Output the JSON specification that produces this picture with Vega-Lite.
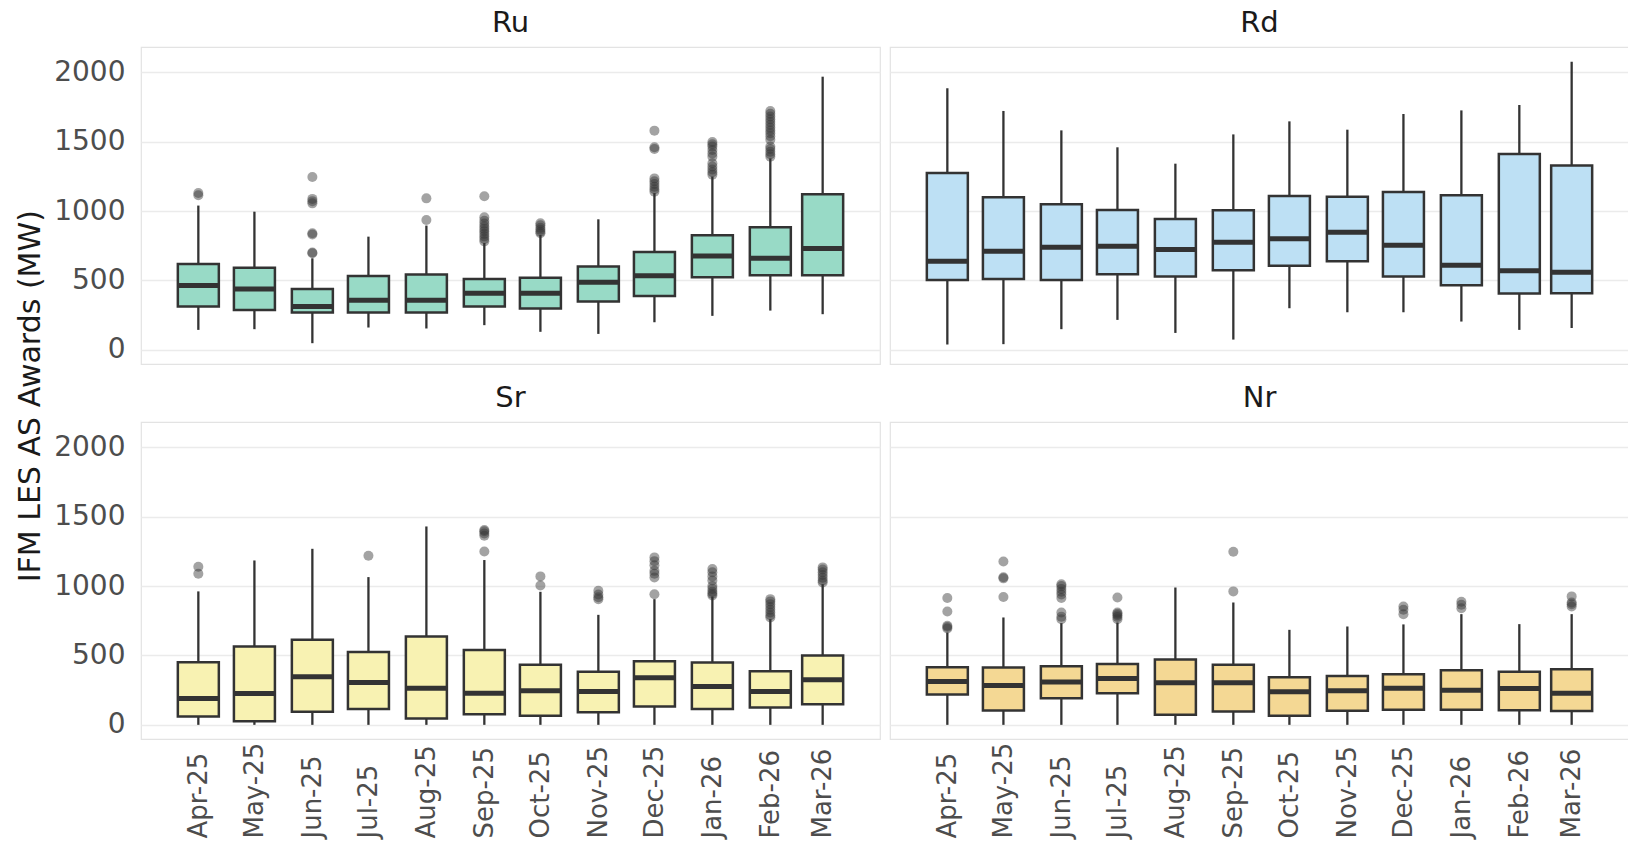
{
 "$schema": "https://vega.github.io/schema/vega-lite/v6.json",
 "padding": {"left": 15, "top": 8, "right": 2, "bottom": 2},
 "background": "white",
 "title": {"text": "IFM LES AS Awards (MW)", "orient": "left", "anchor": "middle", "fontSize": 30, "font": "DejaVu Sans", "fontWeight": "normal", "color": "#1a1a1a", "offset": 8, "dx": 27},
 "datasets": {
  "d": [
   {"panel":"Ru","month":"2025-04-01","lower":144,"q1":312,"median":463,"q3":619,"upper":1040},
   {"panel":"Ru","month":"2025-05-01","lower":149,"q1":288,"median":439,"q3":591,"upper":996},
   {"panel":"Ru","month":"2025-06-01","lower":48,"q1":269,"median":312,"q3":439,"upper":660},
   {"panel":"Ru","month":"2025-07-01","lower":161,"q1":269,"median":358,"q3":533,"upper":816},
   {"panel":"Ru","month":"2025-08-01","lower":154,"q1":269,"median":358,"q3":543,"upper":896},
   {"panel":"Ru","month":"2025-09-01","lower":178,"q1":312,"median":408,"q3":511,"upper":770},
   {"panel":"Ru","month":"2025-10-01","lower":130,"q1":298,"median":408,"q3":519,"upper":828},
   {"panel":"Ru","month":"2025-11-01","lower":115,"q1":348,"median":487,"q3":600,"upper":941},
   {"panel":"Ru","month":"2025-12-01","lower":199,"q1":389,"median":535,"q3":706,"upper":1130},
   {"panel":"Ru","month":"2026-01-01","lower":245,"q1":523,"median":677,"q3":826,"upper":1249},
   {"panel":"Ru","month":"2026-02-01","lower":283,"q1":538,"median":660,"q3":884,"upper":1380},
   {"panel":"Ru","month":"2026-03-01","lower":257,"q1":538,"median":730,"q3":1121,"upper":1969},
   {"panel":"Rd","month":"2025-04-01","lower":38,"q1":504,"median":639,"q3":1275,"upper":1885},
   {"panel":"Rd","month":"2025-05-01","lower":41,"q1":511,"median":711,"q3":1100,"upper":1722},
   {"panel":"Rd","month":"2025-06-01","lower":149,"q1":504,"median":740,"q3":1049,"upper":1582},
   {"panel":"Rd","month":"2025-07-01","lower":216,"q1":545,"median":747,"q3":1008,"upper":1460},
   {"panel":"Rd","month":"2025-08-01","lower":122,"q1":528,"median":723,"q3":944,"upper":1342},
   {"panel":"Rd","month":"2025-09-01","lower":74,"q1":574,"median":776,"q3":1006,"upper":1553},
   {"panel":"Rd","month":"2025-10-01","lower":300,"q1":607,"median":800,"q3":1109,"upper":1647},
   {"panel":"Rd","month":"2025-11-01","lower":271,"q1":639,"median":848,"q3":1104,"upper":1587},
   {"panel":"Rd","month":"2025-12-01","lower":271,"q1":528,"median":754,"q3":1138,"upper":1700},
   {"panel":"Rd","month":"2026-01-01","lower":204,"q1":466,"median":610,"q3":1114,"upper":1726},
   {"panel":"Rd","month":"2026-02-01","lower":144,"q1":406,"median":571,"q3":1412,"upper":1765},
   {"panel":"Rd","month":"2026-03-01","lower":158,"q1":408,"median":559,"q3":1328,"upper":2077},
   {"panel":"Sr","month":"2025-04-01","lower":0,"q1":60,"median":190,"q3":452,"upper":962},
   {"panel":"Sr","month":"2025-05-01","lower":0,"q1":26,"median":226,"q3":565,"upper":1185},
   {"panel":"Sr","month":"2025-06-01","lower":0,"q1":94,"median":346,"q3":613,"upper":1269},
   {"panel":"Sr","month":"2025-07-01","lower":0,"q1":115,"median":305,"q3":526,"upper":1065},
   {"panel":"Sr","month":"2025-08-01","lower":0,"q1":46,"median":264,"q3":637,"upper":1430},
   {"panel":"Sr","month":"2025-09-01","lower":0,"q1":77,"median":228,"q3":539,"upper":1188},
   {"panel":"Sr","month":"2025-10-01","lower":0,"q1":65,"median":245,"q3":433,"upper":959},
   {"panel":"Sr","month":"2025-11-01","lower":0,"q1":91,"median":240,"q3":382,"upper":793},
   {"panel":"Sr","month":"2025-12-01","lower":0,"q1":132,"median":339,"q3":459,"upper":906},
   {"panel":"Sr","month":"2026-01-01","lower":0,"q1":115,"median":276,"q3":450,"upper":925},
   {"panel":"Sr","month":"2026-02-01","lower":0,"q1":125,"median":240,"q3":387,"upper":762},
   {"panel":"Sr","month":"2026-03-01","lower":0,"q1":149,"median":325,"q3":500,"upper":1014},
   {"panel":"Nr","month":"2025-04-01","lower":0,"q1":219,"median":313,"q3":416,"upper":666},
   {"panel":"Nr","month":"2025-05-01","lower":0,"q1":103,"median":284,"q3":413,"upper":774},
   {"panel":"Nr","month":"2025-06-01","lower":0,"q1":192,"median":308,"q3":423,"upper":733},
   {"panel":"Nr","month":"2025-07-01","lower":0,"q1":228,"median":334,"q3":438,"upper":738},
   {"panel":"Nr","month":"2025-08-01","lower":0,"q1":72,"median":303,"q3":471,"upper":990},
   {"panel":"Nr","month":"2025-09-01","lower":0,"q1":96,"median":303,"q3":433,"upper":882},
   {"panel":"Nr","month":"2025-10-01","lower":0,"q1":65,"median":238,"q3":344,"upper":685},
   {"panel":"Nr","month":"2025-11-01","lower":0,"q1":101,"median":245,"q3":353,"upper":709},
   {"panel":"Nr","month":"2025-12-01","lower":0,"q1":108,"median":264,"q3":365,"upper":724},
   {"panel":"Nr","month":"2026-01-01","lower":0,"q1":108,"median":250,"q3":394,"upper":798},
   {"panel":"Nr","month":"2026-02-01","lower":0,"q1":106,"median":262,"q3":382,"upper":726},
   {"panel":"Nr","month":"2026-03-01","lower":0,"q1":99,"median":228,"q3":401,"upper":798},
   {"panel":"Ru","month":"2025-04-01","outlier":1115},
   {"panel":"Ru","month":"2025-04-01","outlier":1130},
   {"panel":"Ru","month":"2025-06-01","outlier":696},
   {"panel":"Ru","month":"2025-06-01","outlier":702},
   {"panel":"Ru","month":"2025-06-01","outlier":831},
   {"panel":"Ru","month":"2025-06-01","outlier":840},
   {"panel":"Ru","month":"2025-06-01","outlier":1056},
   {"panel":"Ru","month":"2025-06-01","outlier":1072},
   {"panel":"Ru","month":"2025-06-01","outlier":1088},
   {"panel":"Ru","month":"2025-06-01","outlier":1246},
   {"panel":"Ru","month":"2025-08-01","outlier":936},
   {"panel":"Ru","month":"2025-08-01","outlier":1092},
   {"panel":"Ru","month":"2025-09-01","outlier":782},
   {"panel":"Ru","month":"2025-09-01","outlier":800},
   {"panel":"Ru","month":"2025-09-01","outlier":818},
   {"panel":"Ru","month":"2025-09-01","outlier":836},
   {"panel":"Ru","month":"2025-09-01","outlier":855},
   {"panel":"Ru","month":"2025-09-01","outlier":872},
   {"panel":"Ru","month":"2025-09-01","outlier":890},
   {"panel":"Ru","month":"2025-09-01","outlier":910},
   {"panel":"Ru","month":"2025-09-01","outlier":930},
   {"panel":"Ru","month":"2025-09-01","outlier":955},
   {"panel":"Ru","month":"2025-09-01","outlier":1107},
   {"panel":"Ru","month":"2025-10-01","outlier":840},
   {"panel":"Ru","month":"2025-10-01","outlier":852},
   {"panel":"Ru","month":"2025-10-01","outlier":866},
   {"panel":"Ru","month":"2025-10-01","outlier":880},
   {"panel":"Ru","month":"2025-10-01","outlier":898},
   {"panel":"Ru","month":"2025-10-01","outlier":912},
   {"panel":"Ru","month":"2025-12-01","outlier":1140},
   {"panel":"Ru","month":"2025-12-01","outlier":1158},
   {"panel":"Ru","month":"2025-12-01","outlier":1176},
   {"panel":"Ru","month":"2025-12-01","outlier":1195},
   {"panel":"Ru","month":"2025-12-01","outlier":1215},
   {"panel":"Ru","month":"2025-12-01","outlier":1236},
   {"panel":"Ru","month":"2025-12-01","outlier":1448},
   {"panel":"Ru","month":"2025-12-01","outlier":1460},
   {"panel":"Ru","month":"2025-12-01","outlier":1580},
   {"panel":"Ru","month":"2026-01-01","outlier":1262},
   {"panel":"Ru","month":"2026-01-01","outlier":1280},
   {"panel":"Ru","month":"2026-01-01","outlier":1300},
   {"panel":"Ru","month":"2026-01-01","outlier":1322},
   {"panel":"Ru","month":"2026-01-01","outlier":1345},
   {"panel":"Ru","month":"2026-01-01","outlier":1392},
   {"panel":"Ru","month":"2026-01-01","outlier":1415},
   {"panel":"Ru","month":"2026-01-01","outlier":1440},
   {"panel":"Ru","month":"2026-01-01","outlier":1465},
   {"panel":"Ru","month":"2026-01-01","outlier":1482},
   {"panel":"Ru","month":"2026-01-01","outlier":1498},
   {"panel":"Ru","month":"2026-02-01","outlier":1392},
   {"panel":"Ru","month":"2026-02-01","outlier":1410},
   {"panel":"Ru","month":"2026-02-01","outlier":1428},
   {"panel":"Ru","month":"2026-02-01","outlier":1448},
   {"panel":"Ru","month":"2026-02-01","outlier":1465},
   {"panel":"Ru","month":"2026-02-01","outlier":1515},
   {"panel":"Ru","month":"2026-02-01","outlier":1540},
   {"panel":"Ru","month":"2026-02-01","outlier":1562},
   {"panel":"Ru","month":"2026-02-01","outlier":1582},
   {"panel":"Ru","month":"2026-02-01","outlier":1602},
   {"panel":"Ru","month":"2026-02-01","outlier":1622},
   {"panel":"Ru","month":"2026-02-01","outlier":1642},
   {"panel":"Ru","month":"2026-02-01","outlier":1662},
   {"panel":"Ru","month":"2026-02-01","outlier":1682},
   {"panel":"Ru","month":"2026-02-01","outlier":1702},
   {"panel":"Ru","month":"2026-02-01","outlier":1722},
   {"panel":"Sr","month":"2025-04-01","outlier":1089},
   {"panel":"Sr","month":"2025-04-01","outlier":1139},
   {"panel":"Sr","month":"2025-07-01","outlier":1219},
   {"panel":"Sr","month":"2025-09-01","outlier":1250},
   {"panel":"Sr","month":"2025-09-01","outlier":1363},
   {"panel":"Sr","month":"2025-09-01","outlier":1380},
   {"panel":"Sr","month":"2025-09-01","outlier":1395},
   {"panel":"Sr","month":"2025-09-01","outlier":1404},
   {"panel":"Sr","month":"2025-10-01","outlier":1005},
   {"panel":"Sr","month":"2025-10-01","outlier":1070},
   {"panel":"Sr","month":"2025-11-01","outlier":906},
   {"panel":"Sr","month":"2025-11-01","outlier":920},
   {"panel":"Sr","month":"2025-11-01","outlier":940},
   {"panel":"Sr","month":"2025-11-01","outlier":966},
   {"panel":"Sr","month":"2025-12-01","outlier":942},
   {"panel":"Sr","month":"2025-12-01","outlier":1063},
   {"panel":"Sr","month":"2025-12-01","outlier":1090},
   {"panel":"Sr","month":"2025-12-01","outlier":1110},
   {"panel":"Sr","month":"2025-12-01","outlier":1150},
   {"panel":"Sr","month":"2025-12-01","outlier":1180},
   {"panel":"Sr","month":"2025-12-01","outlier":1207},
   {"panel":"Sr","month":"2026-01-01","outlier":932},
   {"panel":"Sr","month":"2026-01-01","outlier":945},
   {"panel":"Sr","month":"2026-01-01","outlier":960},
   {"panel":"Sr","month":"2026-01-01","outlier":980},
   {"panel":"Sr","month":"2026-01-01","outlier":1000},
   {"panel":"Sr","month":"2026-01-01","outlier":1040},
   {"panel":"Sr","month":"2026-01-01","outlier":1070},
   {"panel":"Sr","month":"2026-01-01","outlier":1100},
   {"panel":"Sr","month":"2026-01-01","outlier":1123},
   {"panel":"Sr","month":"2026-02-01","outlier":774},
   {"panel":"Sr","month":"2026-02-01","outlier":790},
   {"panel":"Sr","month":"2026-02-01","outlier":810},
   {"panel":"Sr","month":"2026-02-01","outlier":830},
   {"panel":"Sr","month":"2026-02-01","outlier":850},
   {"panel":"Sr","month":"2026-02-01","outlier":870},
   {"panel":"Sr","month":"2026-02-01","outlier":890},
   {"panel":"Sr","month":"2026-02-01","outlier":906},
   {"panel":"Sr","month":"2026-03-01","outlier":1026},
   {"panel":"Sr","month":"2026-03-01","outlier":1040},
   {"panel":"Sr","month":"2026-03-01","outlier":1060},
   {"panel":"Sr","month":"2026-03-01","outlier":1080},
   {"panel":"Sr","month":"2026-03-01","outlier":1100},
   {"panel":"Sr","month":"2026-03-01","outlier":1120},
   {"panel":"Sr","month":"2026-03-01","outlier":1135},
   {"panel":"Nr","month":"2025-04-01","outlier":695},
   {"panel":"Nr","month":"2025-04-01","outlier":705},
   {"panel":"Nr","month":"2025-04-01","outlier":714},
   {"panel":"Nr","month":"2025-04-01","outlier":817},
   {"panel":"Nr","month":"2025-04-01","outlier":914},
   {"panel":"Nr","month":"2025-05-01","outlier":921},
   {"panel":"Nr","month":"2025-05-01","outlier":1056},
   {"panel":"Nr","month":"2025-05-01","outlier":1064},
   {"panel":"Nr","month":"2025-05-01","outlier":1178},
   {"panel":"Nr","month":"2025-06-01","outlier":762},
   {"panel":"Nr","month":"2025-06-01","outlier":780},
   {"panel":"Nr","month":"2025-06-01","outlier":810},
   {"panel":"Nr","month":"2025-06-01","outlier":914},
   {"panel":"Nr","month":"2025-06-01","outlier":940},
   {"panel":"Nr","month":"2025-06-01","outlier":959},
   {"panel":"Nr","month":"2025-06-01","outlier":980},
   {"panel":"Nr","month":"2025-06-01","outlier":1000},
   {"panel":"Nr","month":"2025-06-01","outlier":1014},
   {"panel":"Nr","month":"2025-07-01","outlier":762},
   {"panel":"Nr","month":"2025-07-01","outlier":778},
   {"panel":"Nr","month":"2025-07-01","outlier":790},
   {"panel":"Nr","month":"2025-07-01","outlier":800},
   {"panel":"Nr","month":"2025-07-01","outlier":810},
   {"panel":"Nr","month":"2025-07-01","outlier":918},
   {"panel":"Nr","month":"2025-09-01","outlier":962},
   {"panel":"Nr","month":"2025-09-01","outlier":1248},
   {"panel":"Nr","month":"2025-12-01","outlier":798},
   {"panel":"Nr","month":"2025-12-01","outlier":830},
   {"panel":"Nr","month":"2025-12-01","outlier":853},
   {"panel":"Nr","month":"2026-01-01","outlier":841},
   {"panel":"Nr","month":"2026-01-01","outlier":866},
   {"panel":"Nr","month":"2026-01-01","outlier":887},
   {"panel":"Nr","month":"2026-03-01","outlier":853},
   {"panel":"Nr","month":"2026-03-01","outlier":870},
   {"panel":"Nr","month":"2026-03-01","outlier":882},
   {"panel":"Nr","month":"2026-03-01","outlier":926}
  ]
 },
 "data": {"name": "d"},
 "columns": 2,
 "spacing": {"row": 18, "column": 8},
 "facet": {"field": "panel", "type": "nominal", "sort": ["Ru", "Rd", "Sr", "Nr"], "title": null,
   "header": {"labelFontSize": 29, "labelFont": "DejaVu Sans", "labelColor": "#1a1a1a", "labelPadding": 9}},
 "spec": {
  "width": 739,
  "height": 317,
  "encoding": {
   "x": {"field": "month", "type": "temporal", "title": null,
     "scale": {"type": "utc", "domain": [{"year": 2025, "month": 3, "date": 4, "utc": true}, {"year": 2026, "month": 3, "date": 29, "utc": true}], "nice": false},
     "axis": {"format": "%b-%y", "values": [
       {"year": 2025, "month": 4, "date": 1, "utc": true},
       {"year": 2025, "month": 5, "date": 1, "utc": true},
       {"year": 2025, "month": 6, "date": 1, "utc": true},
       {"year": 2025, "month": 7, "date": 1, "utc": true},
       {"year": 2025, "month": 8, "date": 1, "utc": true},
       {"year": 2025, "month": 9, "date": 1, "utc": true},
       {"year": 2025, "month": 10, "date": 1, "utc": true},
       {"year": 2025, "month": 11, "date": 1, "utc": true},
       {"year": 2025, "month": 12, "date": 1, "utc": true},
       {"year": 2026, "month": 1, "date": 1, "utc": true},
       {"year": 2026, "month": 2, "date": 1, "utc": true},
       {"year": 2026, "month": 3, "date": 1, "utc": true}]}}
  },
  "layer": [
   {"transform": [{"filter": "isValid(datum.q1)"}],
    "mark": {"type": "rule", "color": "#333333", "strokeWidth": 2.3},
    "encoding": {
     "y": {"field": "lower", "type": "quantitative", "title": null,
       "scale": {"domain": [-102, 2183], "nice": false, "zero": false},
       "axis": {"values": [0, 500, 1000, 1500, 2000], "format": "d"}},
     "y2": {"field": "upper"}}},
   {"transform": [{"filter": "isValid(datum.q1)"}],
    "mark": {"type": "bar", "size": 41, "stroke": "#333333", "strokeWidth": 2.5, "opacity": 1},
    "encoding": {
     "y": {"field": "q1", "type": "quantitative", "title": null},
     "y2": {"field": "q3"},
     "fill": {"field": "panel", "type": "nominal", "legend": null,
       "scale": {"domain": ["Ru", "Rd", "Sr", "Nr"], "range": ["#98dac6", "#bde0f4", "#f8f2b2", "#f4d894"]}}}},
   {"transform": [{"filter": "isValid(datum.q1)"}],
    "mark": {"type": "tick", "orient": "horizontal", "size": 41, "thickness": 5, "color": "#333333", "opacity": 1},
    "encoding": {
     "y": {"field": "median", "type": "quantitative", "title": null}}},
   {"transform": [{"filter": "isValid(datum.outlier)"}],
    "mark": {"type": "point", "filled": true, "size": 100, "color": "#333333", "opacity": 0.45},
    "encoding": {
     "y": {"field": "outlier", "type": "quantitative", "title": null}}}
  ]
 },
 "config": {
  "font": "DejaVu Sans",
  "view": {"stroke": "#e3e3e3", "strokeWidth": 1.2},
  "axis": {"labelFont": "DejaVu Sans", "labelColor": "#4d4d4d", "domain": false, "ticks": false, "tickSize": 0},
  "axisY": {"labelFontSize": 28, "labelPadding": 15, "grid": true, "gridColor": "#ebebeb", "gridWidth": 1.6},
  "axisX": {"labelFontSize": 26, "labelAngle": 270, "labelAlign": "left", "labelBaseline": "middle", "labelPadding": 98, "grid": false, "labelOverlap": false, "labelFlush": false}
 }
}
